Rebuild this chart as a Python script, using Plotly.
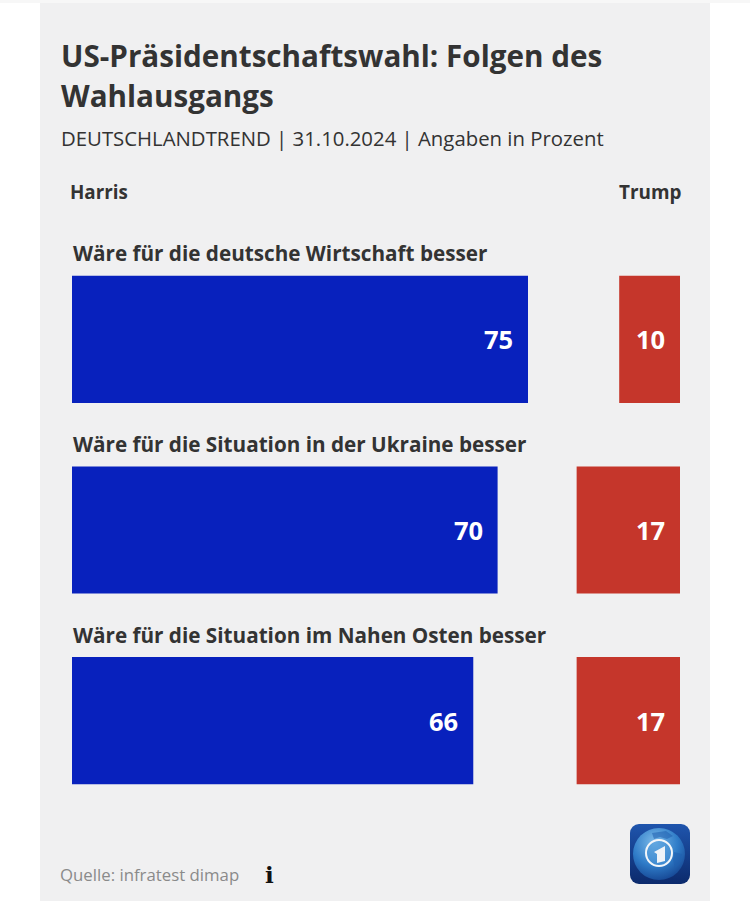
import base64

import plotly.graph_objects as go

WIDTH, HEIGHT = 750, 901
MARGIN = dict(l=72, r=70, t=244, b=85)
FONT = "Open Sans"
INK = "#333333"

title_lines = ["US-Präsidentschaftswahl: Folgen des", "Wahlausgangs"]
subtitle = "DEUTSCHLANDTREND | 31.10.2024 | Angaben in Prozent"
source = "Quelle: infratest dimap"
categories = [
    "Wäre für die deutsche Wirtschaft besser",
    "Wäre für die Situation in der Ukraine besser",
    "Wäre für die Situation im Nahen Osten besser",
]
harris = [75, 70, 66]
trump = [10, 17, 17]

LOGO_SVG = """<svg xmlns="http://www.w3.org/2000/svg" viewBox="0 0 60 60" width="60" height="60">
<defs>
<linearGradient id="bg" x1="0" y1="0" x2="0" y2="1"><stop offset="0" stop-color="#1f55ad"/><stop offset="1" stop-color="#0c2a6c"/></linearGradient>
<radialGradient id="globe" cx="0.42" cy="0.28" r="0.8"><stop offset="0" stop-color="#7dbcea"/><stop offset="0.55" stop-color="#2f7cc8"/><stop offset="1" stop-color="#123f8c"/></radialGradient>
</defs>
<rect width="60" height="60" rx="9" fill="url(#bg)"/>
<circle cx="29" cy="30" r="26" fill="url(#globe)"/>
<path d="M22 9 L36 7 L43 12 L37 15 L30 13 L24 15 Z M44 28 L52 30 L50 40 L45 44 L43 36 Z" fill="#1f5fae" fill-opacity="0.55"/>
<circle cx="29" cy="29" r="13" fill="#4d97d8" fill-opacity="0.55" stroke="#f2f6fa" stroke-width="2"/>
<path d="M24 28 L35 22 L35 37 L27 39 L27 30 Z" fill="#eef3f8"/>
</svg>"""

PLOT_W = WIDTH - MARGIN["l"] - MARGIN["r"]
PLOT_H = HEIGHT - MARGIN["t"] - MARGIN["b"]


# paper coordinates are relative to the plot area, so convert from page pixels
def px(x):
    return (x - MARGIN["l"]) / PLOT_W


def py(y):
    return 1 - (y - MARGIN["t"]) / PLOT_H


def label(x, y, text, size, bold=False, color=INK, xanchor="left", family=FONT):
    return dict(
        x=px(x), y=py(y), xref="paper", yref="paper", text=f"<b>{text}</b>" if bold else text,
        showarrow=False, xanchor=xanchor, yanchor="middle", borderpad=0, borderwidth=0,
        font=dict(family=family, size=size, color=color),
    )


fig = go.Figure()
fig.add_bar(y=categories, x=harris, orientation="h", marker=dict(color="#0821bd", line_width=0), name="Harris")
fig.add_bar(
    y=categories, x=trump, base=[100 - v for v in trump], orientation="h",
    marker=dict(color="#c5362b", line_width=0), name="Trump",
)

annotations = [
    label(61, 55, title_lines[0], 29.65, bold=True),
    label(61, 95, title_lines[1], 29.65, bold=True),
    label(61, 138, subtitle, 20.35),
    label(70, 192, "Harris", 18.8, bold=True),
    label(680.5, 192, "Trump", 18.9, bold=True, xanchor="right"),
    label(60, 874, source, 16.8, color="#8a8a8a"),
    label(269, 874, "i", 23, bold=True, color="#111111", xanchor="center", family="DejaVu Serif"),
]
for cat, h, t in zip(categories, harris, trump):
    annotations.append(dict(
        x=0, y=cat, text=f"<b>{cat}</b>", showarrow=False, xanchor="left", yanchor="middle",
        xshift=-1, yshift=86,
        font=dict(family=FONT, size=20.7, color=INK),
    ))
    annotations.append(dict(
        x=h, y=cat, text=f"<b>{h}</b>", showarrow=False, xanchor="right", xshift=-13,
        font=dict(family=FONT, size=25.5, color="white"),
    ))
    annotations.append(dict(
        x=100, y=cat, text=f"<b>{t}</b>", showarrow=False, xanchor="right", xshift=-13,
        font=dict(family=FONT, size=25.5, color="white"),
    ))

fig.update_layout(
    width=WIDTH,
    height=HEIGHT,
    margin=MARGIN,
    paper_bgcolor="white",
    plot_bgcolor="#f0f0f1",
    barmode="overlay",
    bargap=0.333,
    showlegend=False,
    xaxis=dict(range=[0, 100], visible=False, fixedrange=True),
    yaxis=dict(autorange=False, range=[2.5, -0.5], visible=False, fixedrange=True),
    annotations=annotations,
    shapes=[
        dict(
            type="rect", xref="paper", yref="paper", layer="below", line_width=0, fillcolor="#f7f7f7",
            x0=px(0), x1=px(WIDTH), y0=py(3), y1=py(0),
        ),
        dict(
            type="rect", xref="paper", yref="paper", layer="below", line_width=0, fillcolor="#f0f0f1",
            x0=px(40), x1=px(710), y0=py(901), y1=py(3),
        ),
    ],
    images=[dict(
        source="data:image/svg+xml;base64," + base64.b64encode(LOGO_SVG.encode()).decode(),
        xref="paper", yref="paper", x=px(630), y=py(824), sizex=60 / PLOT_W, sizey=60 / PLOT_H,
        xanchor="left", yanchor="top", layer="above",
    )],
)

fig.write_html(
    "out.html",
    config=dict(displayModeBar=False),
    post_script="document.body.style.margin='0'; document.body.style.overflow='hidden';",
)
